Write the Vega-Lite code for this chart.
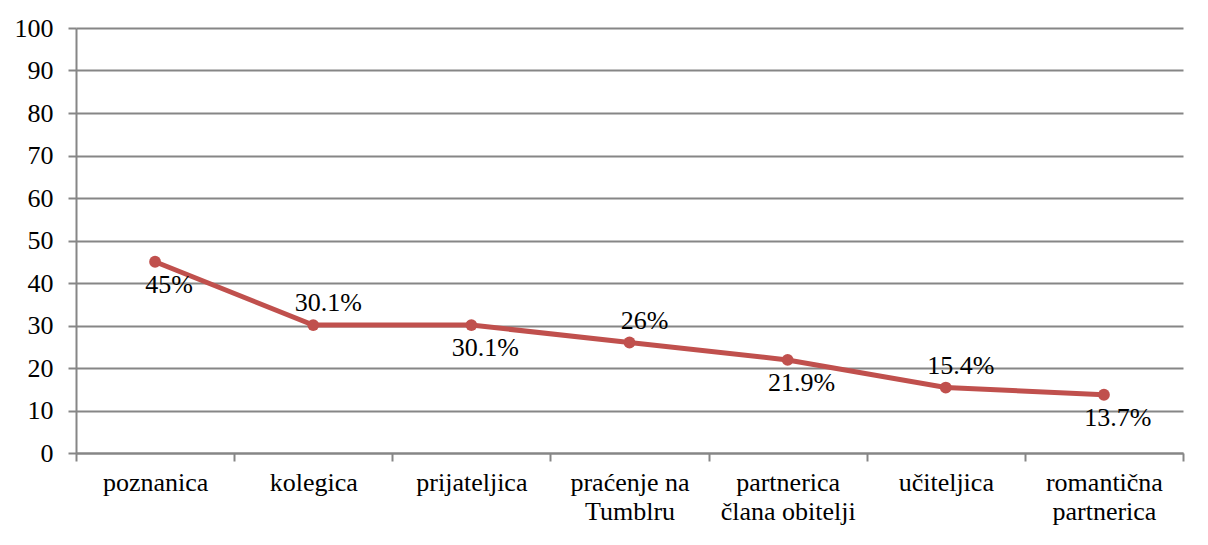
{
  "$schema": "https://vega.github.io/schema/vega-lite/v6.json",
  "autosize": "none",
  "width": 1107,
  "height": 425,
  "padding": {"left": 76, "top": 28, "right": 25, "bottom": 92},
  "background": "white",
  "config": {
    "font": "Times New Roman, Liberation Serif, serif",
    "view": {"stroke": null},
    "axis": {"labelFont": "Times New Roman, Liberation Serif, serif", "labelFontSize": 26, "labelColor": "black", "domainColor": "#868686", "tickColor": "#868686", "gridColor": "#868686", "domainWidth": 2, "tickWidth": 2, "gridWidth": 2, "tickSize": 8}
  },
  "data": {
    "values": [
      {"category": "poznanica", "value": 45, "label": "45%", "pos": "below"},
      {"category": "kolegica", "value": 30.1, "label": "30.1%", "pos": "above"},
      {"category": "prijateljica", "value": 30.1, "label": "30.1%", "pos": "below"},
      {"category": "praćenje na Tumblru", "value": 26, "label": "26%", "pos": "above"},
      {"category": "partnerica člana obitelji", "value": 21.9, "label": "21.9%", "pos": "below"},
      {"category": "učiteljica", "value": 15.4, "label": "15.4%", "pos": "above"},
      {"category": "romantična partnerica", "value": 13.7, "label": "13.7%", "pos": "below"}
    ]
  },
  "encoding": {
    "x": {
      "field": "category", "type": "nominal", "sort": null,
      "scale": {"type": "band", "paddingInner": 0, "paddingOuter": 0},
      "axis": {"title": null, "labelAngle": 0, "tickBand": "extent", "grid": false, "labelPadding": 8, "labelLineHeight": 29, "labelBaseline": "top",
        "labelExpr": "datum.label == 'praćenje na Tumblru' ? ['praćenje na', 'Tumblru'] : datum.label == 'partnerica člana obitelji' ? ['partnerica', 'člana obitelji'] : datum.label == 'romantična partnerica' ? ['romantična', 'partnerica'] : datum.label"}
    },
    "y": {
      "field": "value", "type": "quantitative",
      "scale": {"domain": [0, 100], "nice": false},
      "axis": {"title": null, "values": [0, 10, 20, 30, 40, 50, 60, 70, 80, 90, 100], "grid": true, "labelPadding": 15}
    }
  },
  "layer": [
    {"mark": {"type": "line", "color": "#C0504D", "strokeWidth": 5, "point": {"filled": true, "size": 140, "color": "#C0504D", "opacity": 1}}},
    {
      "transform": [{"filter": "datum.pos == 'below'"}],
      "mark": {"type": "text", "fontSize": 26, "font": "Times New Roman, Liberation Serif, serif", "color": "black", "dx": 14, "dy": 23, "baseline": "middle"},
      "encoding": {"text": {"field": "label"}}
    },
    {
      "transform": [{"filter": "datum.pos == 'above'"}],
      "mark": {"type": "text", "fontSize": 26, "font": "Times New Roman, Liberation Serif, serif", "color": "black", "dx": 15, "dy": -22, "baseline": "middle"},
      "encoding": {"text": {"field": "label"}}
    }
  ]
}
